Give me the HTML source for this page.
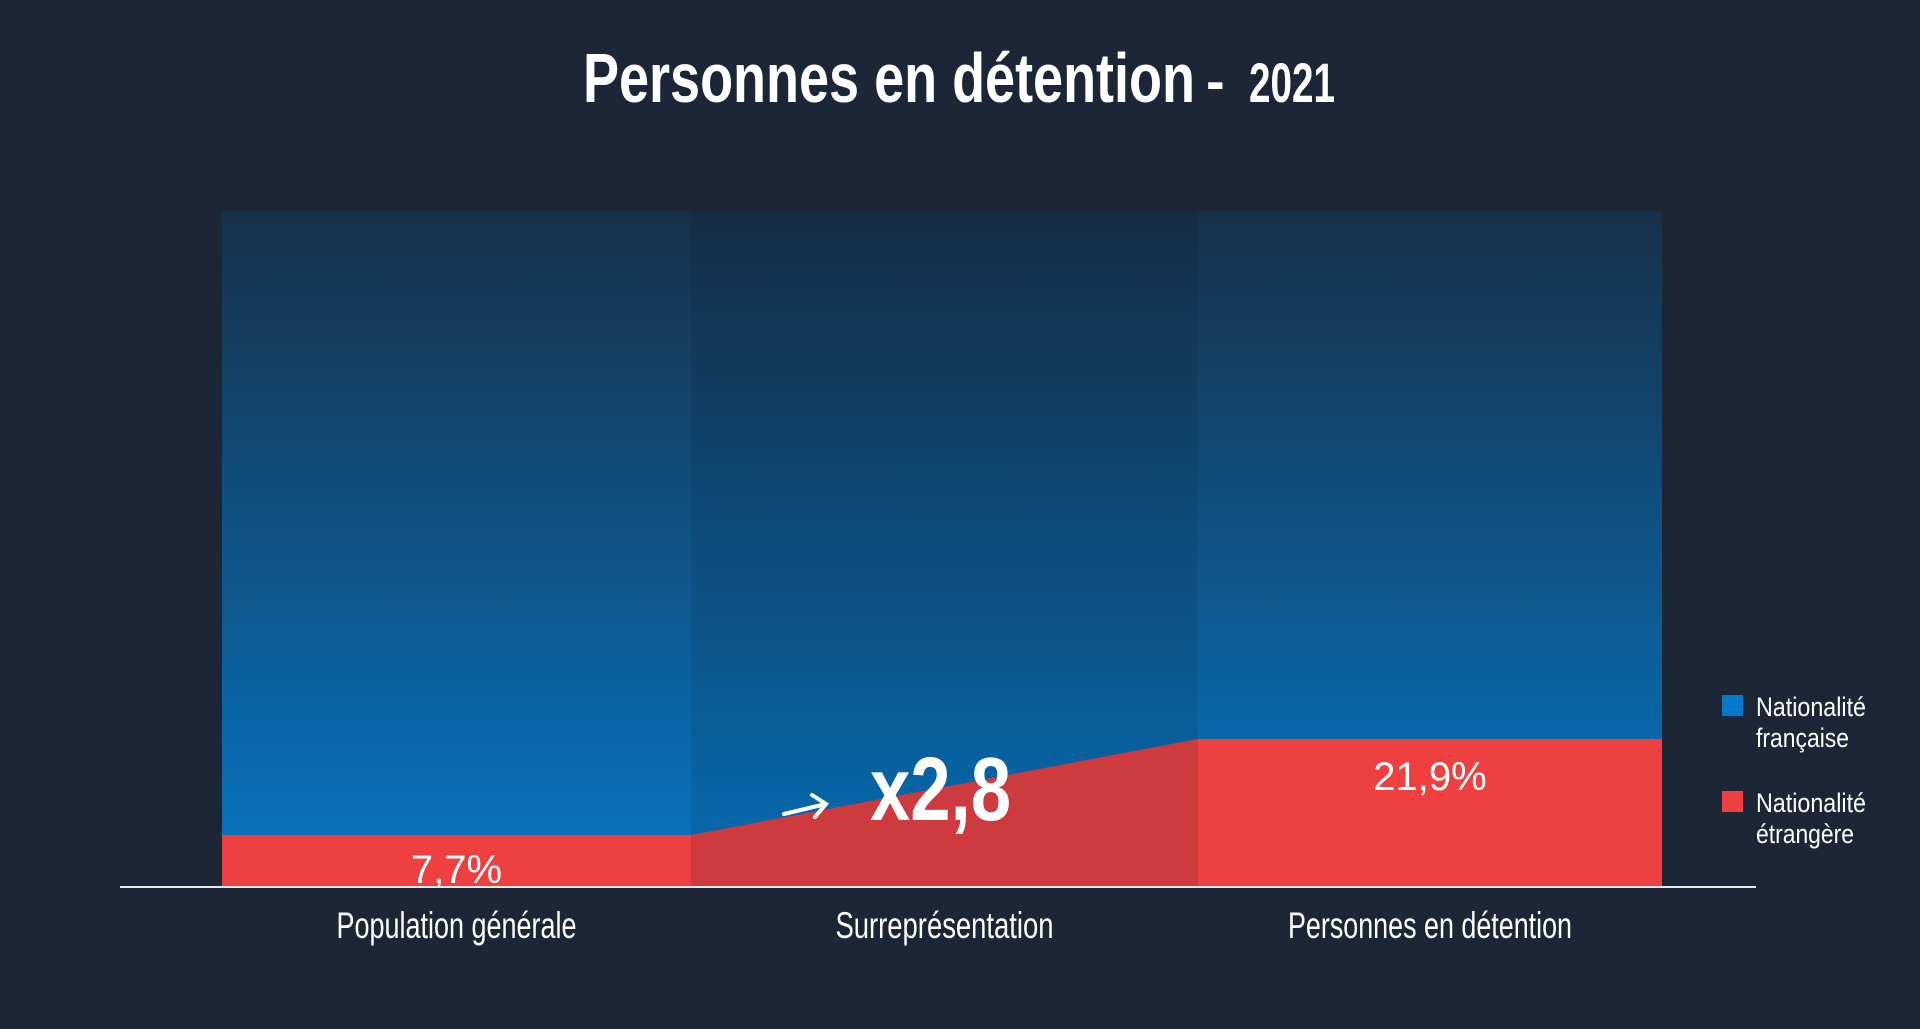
<!DOCTYPE html>
<html><head><meta charset="utf-8"><style>
html,body{margin:0;padding:0;background:#1c2636;}
svg{display:block;}
text{font-family:"Liberation Sans Narrow","Liberation Sans",sans-serif;fill:#fff;}
</style></head><body>
<svg id="chart" width="1920" height="1029" viewBox="0 0 1920 1029" xmlns="http://www.w3.org/2000/svg">
<defs>
<linearGradient id="blueGrad" x1="0" y1="0" x2="0" y2="1">
<stop offset="0" stop-color="#17304a"/><stop offset="1" stop-color="#0677c4"/>
</linearGradient>
</defs>
<rect width="1920" height="1029" fill="#1c2636"/>
<text x="583" y="102" font-size="70" font-weight="bold" textLength="612" lengthAdjust="spacingAndGlyphs">Personnes en détention</text>
<text x="1206" y="100" font-size="56" font-weight="bold">-</text>
<text x="1249" y="102" font-size="56" font-weight="bold" textLength="86" lengthAdjust="spacingAndGlyphs">2021</text>
<g id="plot"></g>
<line x1="120" y1="887" x2="1756" y2="887" stroke="#e8e8e8" stroke-width="2"/>
<rect x="1722" y="695" width="21" height="21" fill="#0678cc"/>
<text x="1756" y="716" font-size="27" textLength="110" lengthAdjust="spacingAndGlyphs">Nationalité</text>
<text x="1756" y="747" font-size="27" textLength="93" lengthAdjust="spacingAndGlyphs">française</text>
<rect x="1722" y="791" width="21" height="21" fill="#ee4040"/>
<text x="1756" y="812" font-size="27" textLength="110" lengthAdjust="spacingAndGlyphs">Nationalité</text>
<text x="1756" y="843" font-size="27" textLength="98" lengthAdjust="spacingAndGlyphs">étrangère</text>
</svg>
<script>
const categories = ["Population générale", "Surreprésentation", "Personnes en détention"];
const foreignValues = [7.7, 21.9];
const valueLabels = ["7,7%", "21,9%"];
const ratioLabel = ["x2,8"];
const yMax = [100];

const NS = "http://www.w3.org/2000/svg";
const plot = document.getElementById("plot");
const top0 = 211, base = 887;
const cols = [222, 691, 1198, 1662];
function y(v){ return base - (v / yMax[0]) * (base - top0); }
function mk(tag, attrs){ const e = document.createElementNS(NS, tag); for (const k in attrs) e.setAttribute(k, attrs[k]); plot.appendChild(e); return e; }

// full background blue columns
let b;
b = mk("rect", {x: cols[0], y: top0, width: cols[1]-cols[0], height: base-top0, fill: "url(#blueGrad)"});


b = mk("rect", {x: cols[1], y: top0, width: cols[2]-cols[1], height: base-top0, fill: "url(#blueGrad)"});


b = mk("rect", {x: cols[1], y: top0, width: cols[2]-cols[1], height: base-top0, fill: "#000", opacity: "0.08"});


b = mk("rect", {x: cols[2], y: top0, width: cols[3]-cols[2], height: base-top0, fill: "url(#blueGrad)"});



// red parts
b = mk("rect", {x: cols[0], y: y(foreignValues[0]), width: cols[1]-cols[0], height: base-y(foreignValues[0]), fill: "#ee4040"});


b = mk("polygon", {points: `${cols[1]},${y(foreignValues[0])} ${cols[2]},${y(foreignValues[1])} ${cols[2]},${base} ${cols[1]},${base}`, fill: "#cd3b3e"});


b = mk("rect", {x: cols[2], y: y(foreignValues[1]), width: cols[3]-cols[2], height: base-y(foreignValues[1]), fill: "#ee4040"});



// value labels
let t = mk("text", {x: (cols[0]+cols[1])/2, y: y(foreignValues[0]) + 48, "font-size": "40", "text-anchor": "middle"});
t.textContent = valueLabels[0];


t = mk("text", {x: (cols[2]+cols[3])/2, y: y(foreignValues[1]) + 51, "font-size": "40", "text-anchor": "middle"});
t.textContent = valueLabels[1];



// ratio
t = mk("text", {x: 870, y: 820, "font-size": "90", "font-weight": "bold", textLength: "141", lengthAdjust: "spacingAndGlyphs"});
t.textContent = ratioLabel[0];


const ar = mk("path", {d: "M784,814 L826,804 M812,795 L826,804 L815,817", stroke: "#fff", "stroke-width": "4", fill: "none", "stroke-linecap": "round"});



// category labels
const catW = [240, 218, 284];
const catColor = ["#ffffff", "#8a919b", "#ffffff"];
categories.forEach((c, i) => {
  const e = mk("text", {x: (cols[i]+cols[i+1])/2, y: 938, "font-size": "37", "text-anchor": "middle", textLength: catW[i], lengthAdjust: "spacingAndGlyphs", fill: catColor[i]});
  e.textContent = c;
  
  
});
</script>
</body></html>
